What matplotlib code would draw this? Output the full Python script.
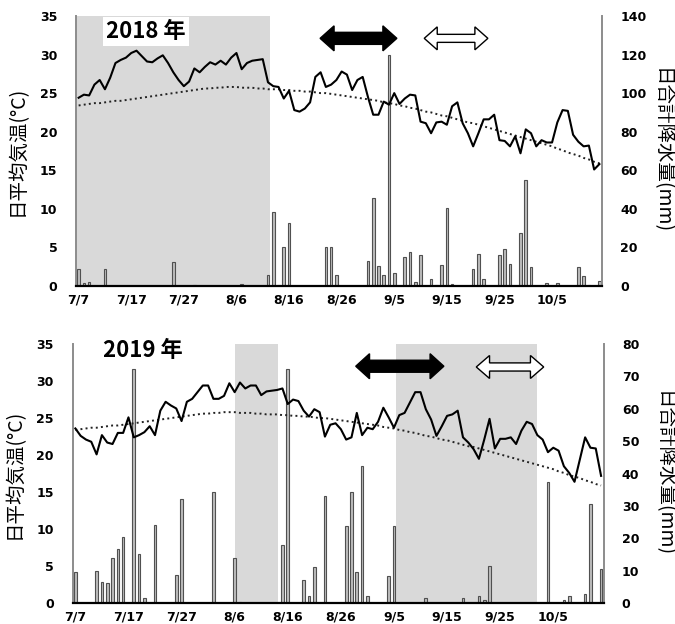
import matplotlib
matplotlib.use("Agg")
import matplotlib.pyplot as plt
import matplotlib.patches as mpatches
import numpy as np

CJK = ['Noto Sans CJK JP', 'DejaVu Sans']

# 7/7 .. 10/14, one category per day
days = np.arange(100)
tick_pos = [0, 10, 20, 30, 40, 50, 60, 70, 80, 90]
tick_labels = ['7/7', '7/17', '7/27', '8/6', '8/16', '8/26', '9/5', '9/15', '9/25', '10/5']

# 平年値 (dotted)
normal = [23.4, 23.5, 23.6, 23.7, 23.7, 23.8, 23.9, 24.0, 24.0, 24.1,
          24.2, 24.3, 24.4, 24.5, 24.6, 24.7, 24.8, 24.9, 25.0, 25.1,
          25.2, 25.3, 25.4, 25.5, 25.6, 25.6, 25.7, 25.7, 25.8, 25.8,
          25.8, 25.7, 25.7, 25.7, 25.6, 25.6, 25.5, 25.5, 25.5, 25.4,
          25.4, 25.3, 25.3, 25.2, 25.2, 25.1, 25.0, 25.0, 24.9, 24.8,
          24.7, 24.6, 24.5, 24.4, 24.3, 24.2, 24.1, 24.0, 23.8, 23.7,
          23.6, 23.4, 23.3, 23.1, 23.0, 22.8, 22.6, 22.5, 22.3, 22.1,
          22.0, 21.8, 21.6, 21.4, 21.2, 21.1, 20.9, 20.7, 20.5, 20.3,
          20.1, 19.9, 19.7, 19.5, 19.3, 19.1, 18.9, 18.7, 18.5, 18.3,
          18.1, 17.8, 17.6, 17.3, 17.1, 16.9, 16.6, 16.4, 16.1, 15.9]

temp_2018 = [24.4, 24.8, 24.7, 26.1, 26.7, 25.5, 27.0, 28.9, 29.3, 29.6,
             30.2, 30.5, 29.8, 29.1, 29.0, 29.5, 29.9, 28.9, 27.7, 26.7,
             25.9, 26.5, 28.2, 27.7, 28.4, 29.0, 28.7, 29.2, 28.7, 29.6,
             30.2, 28.1, 28.9, 29.2, 29.3, 29.4, 26.4, 25.9, 25.8, 24.3,
             25.3, 22.8, 22.6, 23.0, 23.8, 27.1, 27.7, 25.8, 26.1, 26.7,
             27.8, 27.4, 25.4, 26.7, 27.1, 24.5, 22.2, 22.2, 23.9, 23.5,
             25.0, 23.6, 24.3, 24.8, 24.7, 21.3, 21.1, 19.8, 21.2, 21.3,
             20.9, 23.3, 23.8, 21.1, 19.8, 18.1, 19.8, 21.6, 21.6, 22.2,
             18.9, 18.8, 18.1, 19.4, 17.2, 20.3, 19.8, 18.1, 18.9, 18.6,
             18.6, 21.2, 22.8, 22.7, 19.6, 18.7, 18.1, 18.2, 15.1, 15.8]

temp_2019 = [23.6, 22.6, 22.1, 21.8, 20.1, 22.7, 21.7, 21.5, 23.0, 23.0,
             25.1, 22.4, 22.7, 23.1, 23.9, 22.7, 26.0, 27.2, 26.7, 26.3,
             24.6, 27.2, 27.6, 28.5, 29.4, 29.4, 27.6, 27.6, 28.0, 29.7,
             28.5, 29.8, 29.0, 29.4, 29.4, 28.1, 28.6, 28.7, 28.8, 29.0,
             26.9, 27.5, 27.3, 26.0, 25.2, 26.2, 25.8, 22.5, 24.1, 24.3,
             23.5, 22.1, 22.4, 25.7, 22.7, 23.7, 23.5, 24.5, 26.4, 25.1,
             23.7, 25.4, 25.7, 27.1, 28.5, 28.5, 26.2, 24.8, 22.6, 23.9,
             25.3, 25.5, 26.0, 22.4, 21.7, 20.8, 19.5, 22.1, 24.9, 20.9,
             22.2, 22.2, 22.4, 21.5, 23.3, 24.5, 24.2, 22.7, 22.1, 20.4,
             21.0, 20.6, 18.5, 17.6, 16.4, 19.4, 22.4, 21.0, 20.9, 17.2]

# 降水のあった日 (7/7 からの日数) と日合計降水量
rain_days_2018 = [0, 1, 2, 5, 18, 22, 31, 36, 37, 38, 39, 40, 47, 48, 49,
                  55, 56, 57, 58, 59, 60, 62, 63, 64, 65, 67, 68, 69, 70, 71,
                  75, 76, 77, 80, 81, 82, 84, 85, 86, 89, 91, 95, 96, 97, 99]
rain_2018 = [8.6, 1.4, 2.1, 8.6, 12.3, 0.5, 1.0, 5.5, 38.5, 0.5, 20.4, 32.5, 20.0, 20.4, 5.5,
             13.0, 45.5, 10.4, 5.5, 120.0, 6.9, 15.2, 17.8, 2.2, 15.9, 3.5, 0.3, 10.9, 40.3, 0.9,
             8.6, 16.6, 3.8, 15.9, 19.0, 11.2, 27.7, 55.0, 9.7, 1.7, 1.7, 10.0, 5.2, 0.3, 2.8]

rain_days_2019 = [0, 4, 5, 6, 7, 8, 9, 11, 12, 13, 15, 19, 20, 26, 30, 31, 39, 40,
                  43, 44, 45, 47, 51, 52, 53, 54, 55, 59, 60, 66, 73, 76, 77, 78,
                  89, 92, 93, 96, 97, 99]
rain_2019 = [9.5, 10.1, 6.5, 6.2, 14.0, 16.7, 20.6, 72.4, 15.2, 1.5, 24.1, 8.6, 32.2, 34.3, 14.1, 0.5, 18.1, 72.2,
             7.2, 2.1, 11.1, 33.2, 23.7, 34.3, 9.6, 42.3, 2.1, 8.5, 23.7, 1.5, 1.5, 2.1, 1.0, 11.6,
             37.5, 1.0, 2.4, 2.9, 30.6, 10.5]

# 網掛け期間 (日数の範囲)
shade_2018 = [(-0.5, 36.4)]
shade_2019 = [(30.0, 38.1), (60.3, 86.9)]


def double_arrow(ax, x0, x1, y, body, head, hlen, face):
    pts = [(x0, y), (x0 + hlen, y + head), (x0 + hlen, y + body),
           (x1 - hlen, y + body), (x1 - hlen, y + head), (x1, y),
           (x1 - hlen, y - head), (x1 - hlen, y - body),
           (x0 + hlen, y - body), (x0 + hlen, y - head)]
    ax.add_patch(mpatches.Polygon(pts, closed=True, facecolor=face,
                                  edgecolor='black', lw=1.0, zorder=6))


def draw_panel(rect, temp, rain_days, rain, rain_max, rain_step, shade, year, arrows):
    ax = fig.add_axes(rect)
    ax2 = ax.twinx()
    ax.set_zorder(ax2.get_zorder() + 1)
    ax.patch.set_visible(False)

    for a, b in shade:
        ax2.axvspan(a, b, color='#d9d9d9', lw=0, zorder=0)
    ax2.bar(rain_days, rain, width=0.5, facecolor='#bdbdbd',
            edgecolor='#505050', lw=0.8, zorder=2)

    ax.plot(days, temp, color='black', lw=1.5, zorder=4)
    ax.plot(days, normal, color='#222222', lw=1.4, ls=':', zorder=3)

    ax.set_xlim(-0.5, 99.5)
    ax.set_ylim(0, 35)
    ax.set_yticks(range(0, 36, 5))
    ax2.set_ylim(0, rain_max)
    ax2.set_yticks(range(0, rain_max + 1, rain_step))
    ax.set_xticks(tick_pos)
    ax.set_xticklabels(tick_labels)

    ax.tick_params(axis='y', length=0, pad=13.5, labelsize=9)
    ax.tick_params(axis='x', length=0, pad=5.5, labelsize=9)
    ax2.tick_params(axis='y', length=0, pad=13, labelsize=9)
    for lab in ax.get_xticklabels() + ax.get_yticklabels() + ax2.get_yticklabels():
        lab.set_fontweight('bold')

    for s in ['top', 'right']:
        ax.spines[s].set_visible(False)
    for s in ['top', 'left', 'bottom']:
        ax2.spines[s].set_visible(False)
    ax.spines['left'].set_color('#8c8c8c')
    ax.spines['left'].set_linewidth(1.4)
    ax2.spines['right'].set_color('#8c8c8c')
    ax2.spines['right'].set_linewidth(1.4)
    ax.spines['bottom'].set_color('black')
    ax.spines['bottom'].set_linewidth(1.6)

    ax.text(-0.111, 0.5, '日平均気温(°C)', transform=ax.transAxes, rotation=90,
            ha='center', va='center', fontsize=14, family=CJK)
    ax.text(1.112, 0.5, '日合計降水量(mm)', transform=ax.transAxes, rotation=270,
            ha='center', va='center', fontsize=14, family=CJK)

    ax.text(0.057, year[1], year[0], transform=ax.transAxes, ha='left', va='top',
            fontsize=16, fontweight='bold', family=CJK, zorder=7,
            bbox=dict(facecolor='white', edgecolor='none', boxstyle='square,pad=0.15'))

    for x0, x1, y, body, head, hlen, face in arrows:
        double_arrow(ax, x0, x1, y, body, head, hlen, face)
    return ax


fig = plt.figure(figsize=(6.75, 6.24), dpi=100)

draw_panel([0.1126, 0.5417, 0.7793, 0.4327], temp_2018, rain_days_2018, rain_2018,
           140, 20, shade_2018, ('2018 年', 0.985),
           [(45.9, 60.5, 32.1, 0.78, 1.62, 2.66, 'black'),
            (65.7, 77.8, 32.1, 0.52, 1.49, 2.47, 'white')])

draw_panel([0.1077, 0.0332, 0.7867, 0.4155], temp_2019, rain_days_2019, rain_2019,
           80, 10, shade_2019, ('2019 年', 1.02),
           [(52.8, 69.4, 32.0, 0.81, 1.69, 2.6, 'black'),
            (75.5, 88.2, 31.9, 0.55, 1.55, 2.5, 'white')])

fig.savefig('out.png', dpi=100)
